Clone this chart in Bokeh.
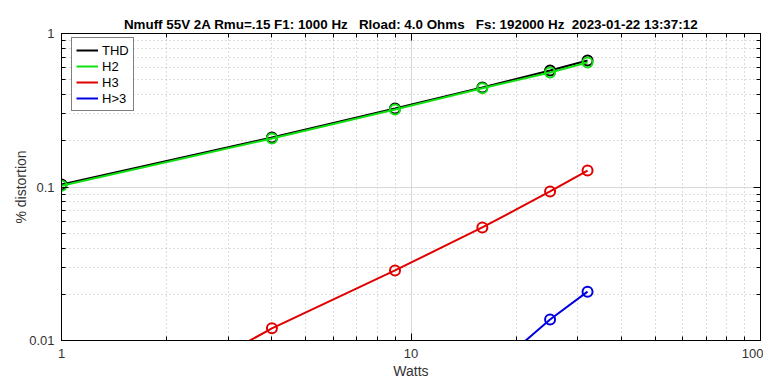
from bokeh.plotting import figure
from bokeh.models import LogAxis, FixedTicker, CustomJSTickFormatter, Legend, LegendItem
from bokeh.embed import file_html
from bokeh.resources import INLINE

watts = [1, 4, 9, 16, 25, 32]
thd = [0.104, 0.21, 0.325, 0.445, 0.574, 0.667]
h2 = [0.102, 0.207, 0.32, 0.44, 0.557, 0.647]
h3 = [0.0021, 0.012, 0.0286, 0.0545, 0.0935, 0.128]
hgt3 = [0.0003, 0.0012, 0.0028, 0.0057, 0.0137, 0.0208]

series = [("THD", thd, "#000000"), ("H2", h2, "#10e010"),
          ("H3", h3, "#e00000"), ("H>3", hgt3, "#0000e0")]

NB = "\u00a0"
title_text = ("Nmuff 55V 2A Rmu=.15 F1: 1000 Hz" + NB * 3 + "Rload: 4.0 Ohms" + NB * 3
              + "Fs: 192000 Hz" + NB * 2 + "2023-01-22 13:37:12")

FONT = "Liberation Sans"

p = figure(frame_width=699, frame_height=307, x_axis_type="log", y_axis_type="log",
           x_range=(1, 100), y_range=(0.01, 1), output_backend="svg",
           toolbar_location=None, min_border_left=61, min_border_right=3,
           min_border_top=33, min_border_bottom=20,
           title=title_text)

p.title.align = "center"
p.title.text_font = FONT
p.title.text_font_size = "13.4px"
p.title.text_font_style = "bold"
p.title.text_color = "#000000"
p.title.standoff = 4

p.outline_line_color = "#000000"
p.outline_line_width = 1

xmaj = [1, 10, 100]
xmin = [a * b for b in (1, 10) for a in range(2, 10)]
ymaj = [0.01, 0.1, 1]
ymin = [a * b for b in (0.01, 0.1) for a in range(2, 10)]

fmt = CustomJSTickFormatter(code="return String(Number(tick.toPrecision(3)));")
empty = CustomJSTickFormatter(code="return '';")

def style_axis(ax, ticks, minors, labels=True):
    ax.ticker = FixedTicker(ticks=ticks, minor_ticks=minors)
    ax.formatter = fmt if labels else empty
    ax.major_tick_out = 0
    ax.major_tick_in = 7
    ax.minor_tick_out = 0
    ax.minor_tick_in = 4
    ax.axis_line_color = "#000000"
    ax.major_tick_line_color = "#000000"
    ax.minor_tick_line_color = "#000000"
    ax.major_label_text_font = FONT
    ax.major_label_text_font_size = "13px"
    ax.major_label_text_color = "#333333"
    ax.axis_label_text_font = FONT
    ax.axis_label_text_font_size = "14px"
    ax.axis_label_text_font_style = "normal"
    ax.axis_label_text_color = "#333333"
    if not labels:
        ax.major_label_standoff = 0
        ax.major_label_text_font_size = "1px"

style_axis(p.xaxis[0], xmaj, xmin)
style_axis(p.yaxis[0], ymaj, ymin)
p.xaxis[0].axis_label = "Watts"
p.yaxis[0].axis_label = "% distortion"
p.xaxis[0].major_label_standoff = 8
p.xaxis[0].axis_label_standoff = 2
p.yaxis[0].major_label_standoff = 7
p.yaxis[0].axis_label_standoff = -3

top = LogAxis()
right = LogAxis()
style_axis(top, xmaj, xmin, labels=False)
style_axis(right, ymaj, ymin, labels=False)
p.add_layout(top, "above")
p.add_layout(right, "right")

p.xgrid.ticker = FixedTicker(ticks=xmaj, minor_ticks=xmin)
p.ygrid.ticker = FixedTicker(ticks=ymaj, minor_ticks=ymin)
for g in (p.xgrid[0], p.ygrid[0]):
    g.grid_line_color = "#d8d8d8"
    g.grid_line_width = 1
    g.minor_grid_line_color = "#b8b8b8"
    g.minor_grid_line_dash = "1 3"
    g.minor_grid_line_width = 1

items = []
for name, vals, col in series:
    r = p.line(watts, vals, line_color=col, line_width=2)
    p.scatter(watts, vals, marker="circle", size=10, fill_color=None,
              line_color=col, line_width=2)
    items.append(LegendItem(label=name, renderers=[r]))

leg = Legend(items=items, location=(10, 229))
leg.label_text_font = FONT
leg.label_text_font_size = "13px"
leg.label_text_color = "#000000"
leg.border_line_color = "#000000"
leg.border_line_width = 1
leg.background_fill_alpha = 1
leg.padding = 4
leg.spacing = 0
leg.label_height = 16
leg.glyph_height = 16
leg.glyph_width = 22
leg.label_standoff = 4
leg.margin = 0
p.add_layout(leg, "center")

open("out.html", "w").write(file_html(p, INLINE))
